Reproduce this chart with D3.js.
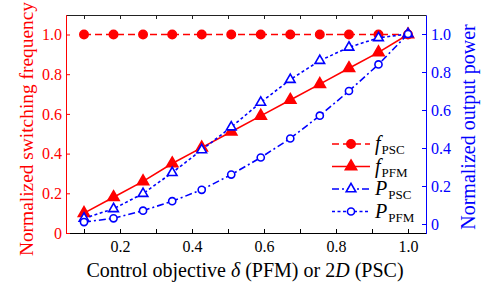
<!DOCTYPE html>
<html>
<head>
<meta charset="utf-8">
<script src="https://cdn.jsdelivr.net/npm/d3@7"></script>
<style>
  body { margin: 0; background: #fff; }
  svg { display: block; font-family: "Liberation Serif", "Times New Roman", serif; }
</style>
</head>
<body>
<div id="chart"></div>
<script>
// Chart data
var xValues = [0.1, 0.182, 0.264, 0.345, 0.427, 0.509, 0.591, 0.673, 0.755, 0.836, 0.918, 1.0];
var fPSC = [1, 1, 1, 1, 1, 1, 1, 1, 1, 1, 1, 1];
var fPFM = [0.10, 0.18, 0.26, 0.35, 0.43, 0.51, 0.59, 0.67, 0.75, 0.83, 0.91, 1.0];
var pPSC = [0.03, 0.08, 0.16, 0.27, 0.39, 0.51, 0.64, 0.76, 0.86, 0.93, 0.98, 1.0];
var pPFM = [0.01, 0.03, 0.07, 0.12, 0.18, 0.26, 0.35, 0.45, 0.57, 0.70, 0.84, 1.0];

var xTicks = [0.1, 0.2, 0.3, 0.4, 0.5, 0.6, 0.7, 0.8, 0.9, 1.0];
var yTicks = [0, 0.2, 0.4, 0.6, 0.8, 1.0];

// SVG area
var svgWidth = 489;
var svgHeight = 285;

var plot = { left: 66, right: 426, top: 15, bottom: 233 };

var red = "#ff0000";
var blue = "#0000ff";

var svg = d3.select("#chart")
  .append("svg")
  .attr("width", svgWidth)
  .attr("height", svgHeight);

// Scales
var xScale = d3.scaleLinear()
  .domain([0.05, 1.05])
  .range([plot.left, plot.right]);

var yLeft = d3.scaleLinear()
  .domain([0, 1.1])
  .range([plot.bottom, plot.bottom - 1.1 * 198.5]);

var yRight = d3.scaleLinear()
  .domain([-0.05, 1.1])
  .range([plot.bottom + 0.5, plot.top]);

var fmt = function(d) { return d === 0 ? "0" : d3.format(".1f")(d); };

// Axes (ticks point inward)
var bottomAxis = d3.axisBottom(xScale)
  .tickValues(xTicks)
  .tickSizeInner(-4).tickSizeOuter(0).tickPadding(8)
  .tickFormat(function(d) { return Math.round(d * 10) % 2 === 0 ? d3.format(".1f")(d) : ""; });

var topAxis = d3.axisTop(xScale)
  .tickValues(xTicks)
  .tickSizeInner(-4).tickSizeOuter(0)
  .tickFormat("");

var leftAxis = d3.axisLeft(yLeft)
  .tickValues(yTicks)
  .tickSizeInner(-4).tickSizeOuter(0).tickPadding(4)
  .tickFormat(fmt);

var rightAxis = d3.axisRight(yRight)
  .tickValues(yTicks)
  .tickSizeInner(-4).tickSizeOuter(0).tickPadding(5)
  .tickFormat(fmt);

function styleAxis(g, color) {
  g.selectAll("path.domain").attr("stroke", color).attr("stroke-width", 1);
  g.selectAll(".tick line").attr("stroke", color);
  g.selectAll(".tick text").attr("fill", color).attr("font-size", 16)
    .attr("font-family", "'Liberation Serif', 'Times New Roman', serif");
}

svg.append("g")
  .attr("transform", `translate(0, ${plot.top})`)
  .call(topAxis)
  .call(styleAxis, "#222");

svg.append("g")
  .attr("transform", `translate(0, ${plot.bottom})`)
  .call(bottomAxis)
  .call(styleAxis, "#000");

svg.append("g")
  .attr("transform", `translate(${plot.left}, 0)`)
  .call(leftAxis)
  .call(styleAxis, red);

svg.append("g")
  .attr("transform", `translate(${plot.right}, 0)`)
  .call(rightAxis)
  .call(styleAxis, blue);

// Series definitions
var series = [
  { name: "f", sub: "PSC", values: fPSC, y: yLeft, color: red, dash: "7,4", symbol: d3.symbolCircle, size: 55, fill: true, legendDash: "7,4" },
  { name: "f", sub: "PFM", values: fPFM, y: yLeft, color: red, dash: null, symbol: d3.symbolTriangle, size: 55, fill: true, legendDash: null },
  { name: "P", sub: "PSC", values: pPSC, y: yRight, color: blue, dash: "3,2.5", symbol: d3.symbolTriangle, size: 40, fill: false, legendDash: "7,3,2,3" },
  { name: "P", sub: "PFM", values: pPFM, y: yRight, color: blue, dash: "7,3,2,3", symbol: d3.symbolCircle, size: 40, fill: false, legendDash: "3,2.5" }
];

// Draw lines and markers
series.forEach(function(s) {
  var pts = xValues.map(function(x, i) { return [x, s.values[i]]; });

  var line = d3.line()
    .x(function(d) { return xScale(d[0]); })
    .y(function(d) { return s.y(d[1]); });

  svg.append("path")
    .datum(pts)
    .attr("d", line)
    .attr("fill", "none")
    .attr("stroke", s.color)
    .attr("stroke-width", 1.6)
    .attr("stroke-dasharray", s.dash);

  svg.selectAll(null)
    .data(pts)
    .enter()
    .append("path")
    .attr("d", d3.symbol().type(s.symbol).size(s.size))
    .attr("transform", function(d) { return `translate(${xScale(d[0])}, ${s.y(d[1])})`; })
    .attr("fill", s.fill ? s.color : "#fff")
    .attr("stroke", s.color)
    .attr("stroke-width", 1.6);
});

// Legend
var legend = svg.append("g").attr("transform", "translate(332, 144)");

series.forEach(function(s, i) {
  var row = legend.append("g").attr("transform", `translate(0, ${i * 22.5})`);

  row.append("line")
    .attr("x1", 0).attr("x2", 38)
    .attr("stroke", s.color)
    .attr("stroke-width", 1.6)
    .attr("stroke-dasharray", s.legendDash);

  row.append("path")
    .attr("d", d3.symbol().type(s.symbol).size(s.size))
    .attr("transform", "translate(19, 0)")
    .attr("fill", s.fill ? s.color : "#fff")
    .attr("stroke", s.color)
    .attr("stroke-width", 1.6);

  var label = row.append("text")
    .attr("x", 43)
    .attr("y", 6)
    .attr("font-size", 20)
    .attr("fill", "#000");
  label.append("tspan").attr("font-style", "italic").text(s.name);
  label.append("tspan").attr("font-size", 13).attr("dy", 4).attr("dx", 1).text(s.sub);
});

// Axis titles
var xTitle = svg.append("text")
  .attr("x", 245)
  .attr("y", 277)
  .attr("text-anchor", "middle")
  .attr("font-size", 20)
  .attr("fill", "#000");
xTitle.append("tspan").text("Control objective ");
xTitle.append("tspan").attr("font-style", "italic").text("δ");
xTitle.append("tspan").text(" (PFM) or 2");
xTitle.append("tspan").attr("font-style", "italic").text("D");
xTitle.append("tspan").text(" (PSC)");

svg.append("text")
  .attr("transform", "translate(33, 129) rotate(-90)")
  .attr("text-anchor", "middle")
  .attr("font-size", 19.4)
  .attr("fill", red)
  .text("Normalized switching frequency");

svg.append("text")
  .attr("transform", "translate(475, 127) rotate(-90)")
  .attr("text-anchor", "middle")
  .attr("font-size", 20)
  .attr("fill", blue)
  .text("Normalized output power");
</script>
</body>
</html>
